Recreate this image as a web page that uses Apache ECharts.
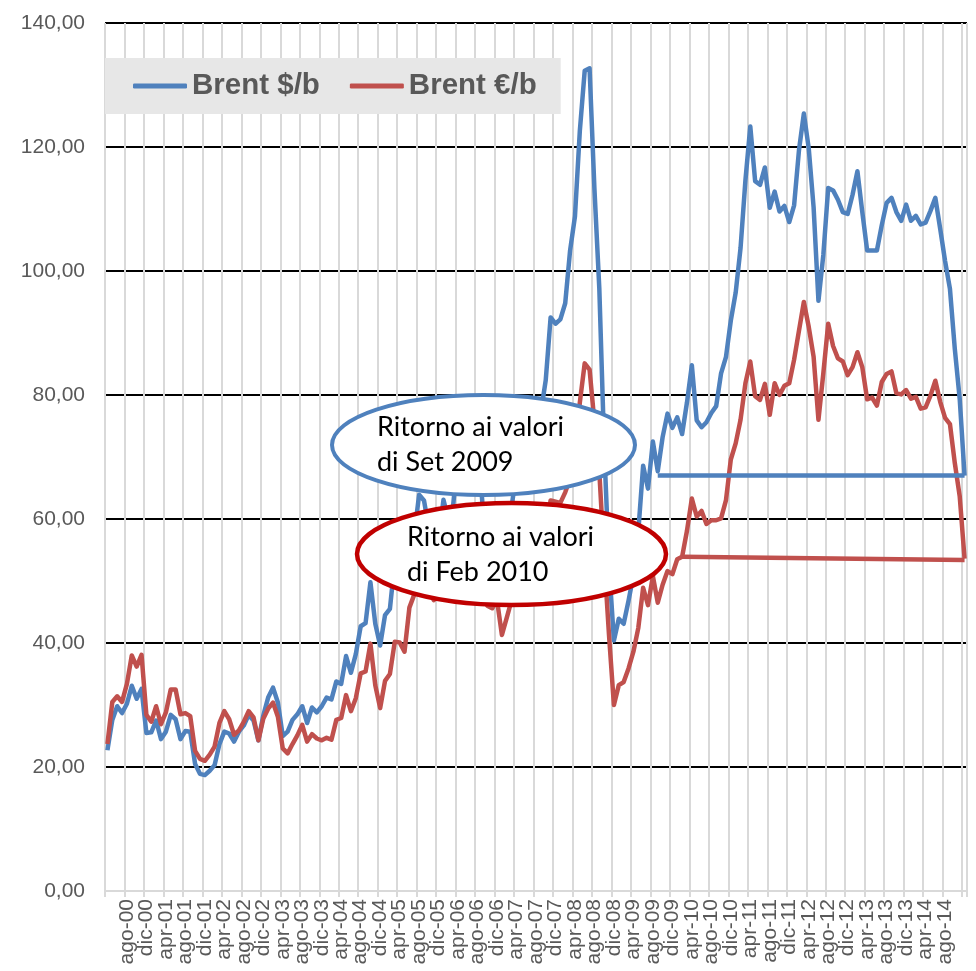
<!DOCTYPE html>
<html>
<head>
<meta charset="utf-8">
<script src="https://cdn.jsdelivr.net/npm/echarts@6/dist/echarts.min.js"></script>
<style>
html,body{margin:0;padding:0;background:#fff;}
#chart{width:976px;height:971px;}
</style>
</head>
<body>
<div id="chart"></div>
<script>
// Month names (Italian) and years spanned by the data: apr-00 .. dic-14
const monthNames = ['gen','feb','mar','apr','mag','giu','lug','ago','set','ott','nov','dic'];
const firstYear = 2000, firstMonth = 3, lastYear = 2014, lastMonth = 11;

// Brent in US$ per barrel (monthly), apr-00 .. dic-14
const brentUsd = [
  22.7, 27.6, 29.8, 28.7, 30.2, 33.1, 31.0, 32.6, 25.5,
  25.6, 27.5, 24.5, 25.7, 28.4, 27.7, 24.5, 25.8, 25.7, 20.5, 18.9, 18.7,
  19.4, 20.3, 23.7, 25.7, 25.4, 24.1, 25.7, 26.7, 28.4, 27.5, 24.3, 28.3,
  31.2, 32.8, 30.4, 25.0, 25.7, 27.6, 28.5, 29.8, 27.1, 29.6, 28.8, 29.8,
  31.2, 30.9, 33.8, 33.4, 37.9, 35.2, 38.2, 42.7, 43.2, 49.8, 43.1, 39.6,
  44.5, 45.5, 53.1, 51.9, 49.0, 55.6, 57.5, 63.9, 63.0, 58.5, 55.3, 56.6,
  63.1, 59.9, 62.3, 70.4, 70.0, 68.9, 73.7, 73.2, 62.5, 58.0, 58.8, 62.0,
  53.7, 57.6, 62.1, 67.4, 67.5, 71.3, 77.2, 70.8, 77.2, 82.4, 92.5, 91.5,
  92.2, 94.8, 103.3, 108.8, 122.6, 132.3, 132.7, 113.2, 97.2, 71.6, 52.5, 40.4,
  43.9, 43.1, 46.8, 50.9, 57.9, 68.6, 64.9, 72.5, 67.7, 73.2, 77.0, 74.7,
  76.4, 73.7, 78.8, 84.8, 75.9, 74.8, 75.6, 77.1, 78.2, 83.5, 86.1, 92.0,
  96.5, 103.7, 114.6, 123.3, 114.5, 113.9, 116.7, 110.2, 112.8, 109.6, 110.5, 107.9,
  110.6, 119.5, 125.4, 119.8, 110.3, 95.2, 102.6, 113.4, 113.0, 111.5, 109.5, 109.2,
  112.3, 116.1, 109.5, 103.3, 103.3, 103.3, 107.4, 111.0, 111.8, 109.5, 108.1, 110.7,
  108.1, 108.9, 107.5, 107.8, 109.7, 111.8, 106.8, 101.6, 97.1, 87.4, 79.4, 67.0
];

// Brent in EUR per barrel (monthly), apr-00 .. dic-14
const brentEur = [
  23.7, 30.5, 31.4, 30.5, 33.4, 38.0, 36.2, 38.1, 28.4,
  27.3, 29.8, 26.9, 28.8, 32.5, 32.5, 28.5, 28.7, 28.2, 22.6, 21.3, 21.0,
  22.0, 23.3, 27.1, 29.0, 27.7, 25.2, 25.9, 27.3, 29.0, 28.0, 24.3, 27.8,
  29.4, 30.4, 28.1, 23.0, 22.2, 23.7, 25.1, 26.8, 24.1, 25.3, 24.6, 24.3,
  24.7, 24.4, 27.6, 27.9, 31.6, 29.0, 31.1, 35.1, 35.4, 39.9, 33.2, 29.5,
  33.9, 35.0, 40.2, 40.1, 38.6, 45.7, 47.8, 52.0, 51.4, 48.7, 46.9, 47.7,
  52.1, 50.2, 51.8, 57.4, 54.8, 54.5, 58.1, 57.1, 49.1, 46.0, 45.6, 46.9,
  41.3, 44.1, 46.9, 49.9, 50.0, 53.1, 56.3, 52.0, 55.6, 57.9, 63.0, 62.8,
  62.6, 64.3, 66.5, 69.1, 78.8, 85.1, 84.1, 75.6, 67.6, 53.7, 41.2, 30.0,
  33.2, 33.7, 35.9, 38.6, 42.4, 48.9, 46.1, 50.8, 46.5, 49.4, 51.6, 51.1,
  53.5, 53.9, 58.1, 63.3, 60.4, 61.3, 59.2, 59.8, 59.8, 60.1, 63.0, 69.6,
  72.2, 76.0, 81.9, 85.4, 79.8, 79.2, 81.8, 76.8, 81.9, 80.0, 81.5, 81.9,
  85.7, 90.4, 95.0, 91.0, 86.2, 76.0, 83.5, 91.5, 87.9, 85.9, 85.4, 83.2,
  84.5, 86.9, 84.5, 79.3, 79.6, 78.3, 82.1, 83.4, 83.8, 80.3, 80.1, 80.8,
  79.4, 79.7, 77.8, 78.0, 79.9, 82.3, 78.9, 76.3, 75.3, 69.0, 63.7, 53.6
];

// Y-axis ticks
const yTicks = [0, 20, 40, 60, 80, 100, 120, 140];

// Annotation reference levels ("Ritorno ai valori di ...")
const usdRefStart = 'set-09', usdRefLevel = [67.0, 67.0];
const eurRefStart = 'feb-10', eurRefLevel = [53.9, 53.4];
const noteUsd = ['Ritorno ai valori', 'di Set 2009'];
const noteEur = ['Ritorno ai valori', 'di Feb 2010'];

const seriesNames = ['Brent $/b', 'Brent €/b'];
const labelEvery = 4; // one x label / gridline every 4 months

// Build categories
const categories = [];
for (let y = firstYear; y <= lastYear; y++) {
  const m0 = (y === firstYear) ? firstMonth : 0;
  const m1 = (y === lastYear) ? lastMonth : 11;
  for (let m = m0; m <= m1; m++) {
    categories.push(monthNames[m] + '-' + String(y % 100).padStart(2, '0'));
  }
}
const lastCat = categories[categories.length - 1];
const every = (idx) => idx % labelEvery === 0;

const BLUE = '#4F81BD', RED = '#C0504D', DARKRED = '#C00000';
const chart = echarts.init(document.getElementById('chart'), null, {renderer: 'canvas'});

const noteFont = '27px Lato';
chart.setOption({
  backgroundColor: '#ffffff',
  animation: false,
  grid: {left: 105, right: 9, top: 23, bottom: 80, containLabel: false, outerBoundsMode: 'none'},
  legend: {
    data: seriesNames,
    left: 105, top: 58,
    padding: [13, 24, 13, 28],
    backgroundColor: '#e7e7e7',
    itemGap: 30,
    itemWidth: 54, itemHeight: 5,
    icon: 'roundRect',
    selectedMode: false,
    textStyle: {fontFamily: 'Liberation Sans', fontWeight: 'bold', fontSize: 29.5, color: '#595959'}
  },
  xAxis: {
    type: 'category',
    data: categories,
    boundaryGap: true,
    axisLine: {show: true, lineStyle: {color: '#d9d9d9', width: 2}},
    axisTick: {show: true, interval: every, length: 6, lineStyle: {color: '#d9d9d9', width: 2}},
    splitLine: {show: true, interval: every, lineStyle: {color: '#d9d9d9', width: 2}},
    axisLabel: {interval: every, rotate: 90, margin: 8, hideOverlap: false,
      fontFamily: 'Liberation Sans', fontSize: 21, lineHeight: 16, color: '#595959'}
  },
  yAxis: {
    type: 'value',
    min: yTicks[0], max: yTicks[yTicks.length - 1], interval: yTicks[1] - yTicks[0],
    axisLine: {show: false},
    axisTick: {show: false},
    splitLine: {show: true, lineStyle: {color: '#000000', width: 2}},
    axisLabel: {margin: 20, fontFamily: 'Liberation Sans', fontSize: 21, color: '#595959',
      formatter: v => v.toFixed(2).replace('.', ',')}
  },
  series: [
    {name: seriesNames[0], type: 'line', data: brentUsd, showSymbol: false, symbol: 'none',
     lineStyle: {color: BLUE, width: 4.5, join: 'round'}, itemStyle: {color: BLUE}, z: 3},
    {name: seriesNames[1], type: 'line', data: brentEur, showSymbol: false, symbol: 'none',
     lineStyle: {color: RED, width: 4.5, join: 'round'}, itemStyle: {color: RED}, z: 4},
    {name: 'refUsd', type: 'line', data: [], z: 5,
     markLine: {silent: true, symbol: 'none', label: {show: false}, animation: false,
       lineStyle: {color: BLUE, width: 4.5, type: 'solid'},
       data: [[{coord: [usdRefStart, usdRefLevel[0]]}, {coord: [lastCat, usdRefLevel[1]]}]]}},
    {name: 'refEur', type: 'line', data: [], z: 5,
     markLine: {silent: true, symbol: 'none', label: {show: false}, animation: false,
       lineStyle: {color: RED, width: 4.5, type: 'solid'},
       data: [[{coord: [eurRefStart, eurRefLevel[0]]}, {coord: [lastCat, eurRefLevel[1]]}]]}}
  ],
  graphic: [
    {type: 'ellipse', z: 100, shape: {cx: 483.5, cy: 445, rx: 151.5, ry: 50},
     style: {fill: '#ffffff', stroke: BLUE, lineWidth: 4}},
    {type: 'text', z: 101, x: 377, y: 427, style: {text: noteUsd[0], font: noteFont, fill: '#000', verticalAlign: 'middle'}},
    {type: 'text', z: 101, x: 377, y: 462, style: {text: noteUsd[1], font: noteFont, fill: '#000', verticalAlign: 'middle'}},
    {type: 'ellipse', z: 102, shape: {cx: 511.5, cy: 554, rx: 154.5, ry: 51},
     style: {fill: '#ffffff', stroke: DARKRED, lineWidth: 4.5}},
    {type: 'text', z: 103, x: 407, y: 537, style: {text: noteEur[0], font: noteFont, fill: '#000', verticalAlign: 'middle'}},
    {type: 'text', z: 103, x: 407, y: 572, style: {text: noteEur[1], font: noteFont, fill: '#000', verticalAlign: 'middle'}}
  ]
});
</script>
</body>
</html>
